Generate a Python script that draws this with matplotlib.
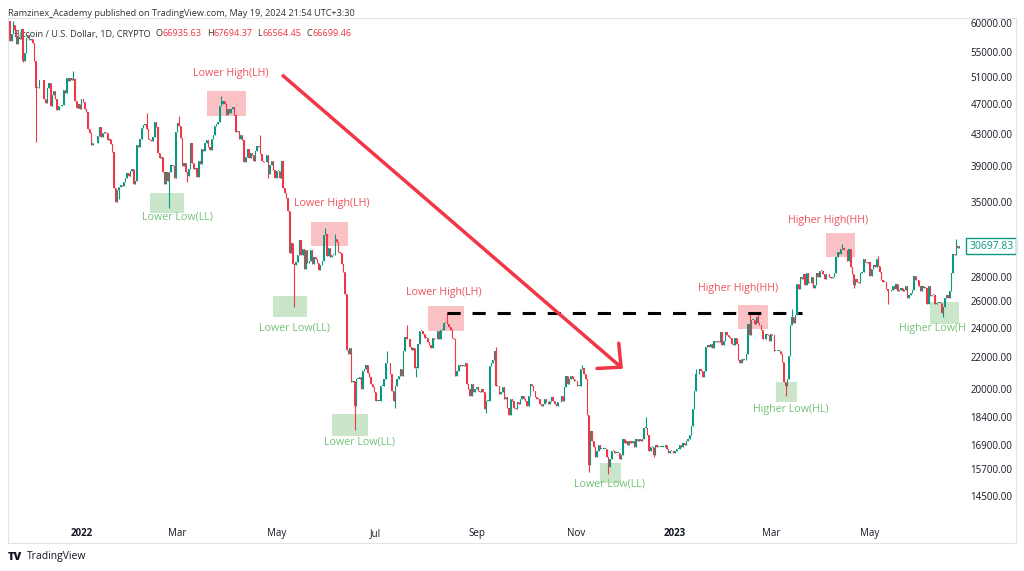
import numpy as np
import pandas as pd
import matplotlib
matplotlib.use('Agg')
import matplotlib.pyplot as plt
import matplotlib.dates as mdates
import matplotlib.transforms as mtransforms
from matplotlib.patches import Rectangle

plt.rcParams['font.family'] = ['Open Sans', 'DejaVu Sans']

# daily closes, thousands of USD (month by month)
month_starts = ['2021-11-18', '2021-12-01', '2022-01-01', '2022-02-01', '2022-03-01',
                '2022-04-01', '2022-05-01', '2022-06-01', '2022-07-01', '2022-08-01',
                '2022-09-01', '2022-10-01', '2022-11-01', '2022-12-01', '2023-01-01',
                '2023-02-01', '2023-03-01', '2023-04-01', '2023-05-01', '2023-06-01']

close_2021_11 = [56.9, 58.1, 59.7, 58.7, 56.3, 57.6, 57.2, 58.9, 53.6, 54.8, 57.3, 57.8, 57.0]
close_2021_12 = [57.2, 56.5, 53.6, 49.4, 49.4, 50.6, 50.5, 50.6, 47.7, 47.2, 49.4, 50.1, 46.7, 48.4, 48.9, 47.7,
                 46.2, 46.8, 46.7, 46.9, 49.0, 48.6, 50.8, 50.4, 50.8, 50.6, 50.7, 47.5, 46.5, 47.1, 46.3]
close_2022_01 = [47.7, 47.3, 46.4, 45.9, 43.6, 43.1, 41.6, 41.8, 41.9, 41.8, 42.7, 43.9, 42.6, 43.1, 43.2, 43.1,
                 42.2, 42.4, 41.7, 40.7, 36.5, 35.1, 36.3, 36.7, 36.9, 36.8, 37.2, 37.7, 38.2, 37.9, 38.5]
close_2022_02 = [38.7, 37.0, 37.3, 41.6, 41.4, 42.4, 43.8, 44.1, 44.3, 43.6, 42.4, 42.2, 42.1, 42.6, 44.6, 43.9,
                 40.6, 40.0, 40.1, 38.4, 37.0, 38.3, 37.3, 38.3, 39.2, 39.1, 37.7, 43.2]
close_2022_03 = [44.4, 44.0, 42.5, 39.1, 39.4, 38.4, 37.9, 38.7, 41.9, 39.4, 38.7, 38.8, 37.8, 39.7, 39.3, 41.1,
                 40.9, 41.8, 42.2, 41.3, 41.0, 42.4, 42.9, 44.0, 44.3, 44.5, 46.8, 47.1, 47.5, 47.1, 45.5]
close_2022_04 = [46.3, 45.8, 46.4, 46.6, 45.5, 43.2, 43.4, 42.3, 42.8, 42.2, 39.5, 40.1, 41.1, 40.0, 40.6, 40.4,
                 39.7, 40.8, 41.5, 41.4, 40.5, 39.7, 39.5, 39.5, 40.4, 38.1, 39.2, 39.7, 38.6, 37.7]
close_2022_05 = [38.5, 38.5, 37.7, 39.7, 36.6, 36.0, 35.5, 34.1, 30.1, 31.0, 29.1, 29.0, 29.3, 29.9, 31.3, 29.9,
                 30.4, 28.7, 30.3, 29.2, 29.4, 30.3, 29.1, 29.7, 29.5, 29.2, 28.6, 29.0, 29.4, 31.7, 31.8]
close_2022_06 = [29.8, 30.5, 29.7, 29.9, 29.9, 31.4, 31.1, 30.2, 30.1, 29.1, 28.4, 26.6, 22.5, 22.2, 22.6, 20.4,
                 20.5, 19.0, 20.6, 20.6, 20.7, 20.0, 21.1, 21.2, 21.5, 21.0, 20.7, 20.3, 20.1, 19.8]
close_2022_07 = [19.3, 19.3, 19.3, 20.2, 20.2, 20.6, 21.6, 21.6, 21.6, 20.9, 19.9, 19.3, 20.2, 20.6, 20.8, 21.2,
                 20.8, 22.4, 23.4, 23.2, 23.2, 22.7, 22.5, 22.6, 21.3, 21.3, 22.9, 23.8, 23.8, 23.6, 23.3]
close_2022_08 = [23.3, 23.0, 22.8, 22.6, 23.3, 23.2, 23.2, 23.8, 23.2, 23.9, 23.9, 24.4, 24.4, 24.3, 24.1, 23.9,
                 23.3, 23.2, 20.8, 21.1, 21.5, 21.4, 21.5, 21.4, 21.6, 20.3, 20.0, 19.6, 20.3, 19.8, 20.0]
close_2022_09 = [20.1, 19.9, 19.8, 20.0, 19.8, 18.8, 19.3, 19.3, 21.4, 21.6, 21.8, 22.4, 20.2, 20.2, 19.7, 19.8,
                 20.1, 19.4, 19.5, 18.9, 18.5, 19.4, 19.3, 18.9, 18.8, 19.2, 19.1, 19.4, 19.6, 19.4]
close_2022_10 = [19.3, 19.0, 19.6, 20.3, 20.2, 19.9, 19.5, 19.4, 19.4, 19.1, 19.0, 19.1, 19.4, 19.2, 19.1, 19.3,
                 19.5, 19.3, 19.1, 19.0, 19.2, 19.2, 19.6, 19.3, 20.1, 20.8, 20.3, 20.6, 20.8, 20.6, 20.5]
close_2022_11 = [20.5, 20.2, 20.2, 21.2, 21.3, 20.9, 20.6, 18.5, 15.9, 17.6, 17.1, 16.8, 16.3, 16.6, 16.9, 16.7,
                 16.7, 16.7, 16.7, 16.3, 15.8, 16.2, 16.6, 16.6, 16.5, 16.5, 16.5, 16.2, 16.4, 17.2]
close_2022_12 = [17.0, 17.1, 16.9, 17.1, 17.0, 17.1, 16.8, 17.2, 17.1, 17.2, 17.1, 17.2, 17.8, 17.8, 17.4, 16.6,
                 16.8, 16.8, 16.4, 16.9, 16.8, 16.8, 16.8, 16.8, 16.8, 16.9, 16.7, 16.5, 16.6, 16.6, 16.5]
close_2023_01 = [16.6, 16.7, 16.7, 16.9, 16.8, 17.0, 16.9, 17.1, 17.2, 17.4, 17.9, 18.8, 19.9, 20.9, 20.9, 21.2,
                 21.1, 20.7, 21.1, 22.7, 22.8, 22.7, 22.9, 22.6, 23.1, 23.0, 23.1, 23.0, 23.7, 22.8, 23.1]
close_2023_02 = [23.7, 23.5, 23.4, 23.3, 22.9, 22.8, 23.3, 22.9, 21.8, 21.6, 21.9, 21.8, 21.8, 22.2, 24.3, 23.5,
                 24.6, 24.6, 24.3, 24.8, 24.4, 24.2, 23.9, 23.2, 23.2, 23.6, 23.5, 23.1]
close_2023_03 = [23.6, 23.5, 22.4, 22.4, 22.4, 22.4, 22.2, 21.7, 20.4, 20.2, 20.6, 22.1, 24.2, 24.8, 24.4, 25.0,
                 27.4, 27.0, 28.0, 27.8, 28.2, 27.3, 28.3, 27.5, 27.5, 28.0, 27.1, 27.3, 28.3, 28.0, 28.5]
close_2023_04 = [28.5, 28.2, 27.8, 28.2, 28.2, 28.0, 27.9, 28.0, 28.3, 29.7, 30.2, 30.0, 30.4, 30.5, 30.3, 30.3,
                 29.4, 30.4, 28.8, 28.2, 27.3, 27.8, 27.6, 27.5, 28.3, 28.4, 29.5, 29.3, 29.2, 29.3]
close_2023_05 = [28.1, 28.7, 29.0, 28.8, 29.5, 28.9, 28.4, 27.7, 27.6, 27.6, 27.0, 26.8, 26.8, 26.9, 27.2, 27.0,
                 27.4, 26.8, 26.9, 27.1, 26.8, 26.9, 27.2, 26.3, 26.5, 26.7, 26.9, 28.1, 27.7, 27.7, 27.2]
close_2023_06 = [26.8, 27.2, 27.1, 27.1, 25.8, 27.2, 26.4, 26.5, 26.5, 25.8, 25.9, 25.9, 25.9, 25.1, 25.6, 26.3,
                 26.5, 26.3, 26.8, 28.3, 30.0, 29.9, 30.7, 30.55, 30.69783]

first_open = 60.4

# wick extremes that stand out on the chart
low_wicks = {'2021-11-26': 53.3, '2021-12-04': 42.0, '2022-01-24': 35.4, '2022-02-24': 34.4,
             '2022-03-07': 37.2, '2022-04-26': 37.7, '2022-05-12': 25.6, '2022-06-18': 17.7,
             '2022-07-13': 18.9, '2022-07-26': 20.7, '2022-09-07': 18.6, '2022-11-09': 15.6,
             '2022-11-21': 15.5, '2022-12-19': 16.3, '2023-03-10': 19.6, '2023-04-21': 27.1,
             '2023-05-12': 25.8, '2023-06-15': 24.8}
high_wicks = {'2021-11-20': 60.4, '2021-12-27': 52.0, '2022-02-10': 45.8, '2022-03-02': 45.4,
              '2022-03-28': 48.2, '2022-04-21': 42.9, '2022-05-31': 32.4, '2022-06-06': 31.8,
              '2022-07-08': 22.4, '2022-07-20': 24.2, '2022-08-14': 25.2, '2022-09-13': 22.7,
              '2022-11-05': 21.5, '2022-12-14': 18.4, '2023-01-14': 21.2, '2023-02-16': 25.2,
              '2023-02-21': 25.1, '2023-03-14': 25.4, '2023-04-14': 30.9, '2023-05-06': 29.8,
              '2023-06-23': 31.4}

price_ticks = [60000, 55000, 51000, 47000, 43000, 39000, 35000, 28000, 26000, 24000,
               22000, 20000, 18400, 16900, 15700, 14500]
time_ticks = ['2022-01-01', '2022-03-01', '2022-05-01', '2022-07-01', '2022-09-01',
              '2022-11-01', '2023-01-01', '2023-03-01', '2023-05-01']
time_labels = ['2022', 'Mar', 'May', 'Jul', 'Sep', 'Nov', '2023', 'Mar', 'May']

# highlight boxes: (start, end, low, high)
red_boxes = [('2022-03-19', '2022-04-12', 45400, 48900),
             ('2022-05-22', '2022-06-14', 30700, 33000),
             ('2022-08-02', '2022-08-24', 23800, 25650),
             ('2023-02-09', '2023-02-27', 23940, 25730),
             ('2023-04-04', '2023-04-22', 29720, 31930)]
green_boxes = [('2022-02-12', '2022-03-05', 33900, 36000),
               ('2022-04-29', '2022-05-20', 24820, 26430),
               ('2022-06-04', '2022-06-26', 17360, 18550),
               ('2022-11-16', '2022-11-29', 15080, 16010),
               ('2023-03-04', '2023-03-17', 19220, 20420),
               ('2023-06-07', '2023-06-25', 24300, 25960)]

red_labels = [('2022-04-03', 51500, 'Lower High(LH)'),
              ('2022-06-04', 34840, 'Lower High(LH)'),
              ('2022-08-12', 26670, 'Lower High(LH)'),
              ('2023-02-09', 27070, 'Higher High(HH)'),
              ('2023-04-05', 33200, 'Higher High(HH)')]
green_labels = [('2022-03-01', 33500, 'Lower Low(LL)'),
                ('2022-05-12', 24000, 'Lower Low(LL)'),
                ('2022-06-21', 17050, 'Lower Low(LL)'),
                ('2022-11-22', 15030, 'Lower Low(LL)'),
                ('2023-03-13', 18820, 'Higher Low(HL)')]
clipped_label = ('2023-05-19', 23940, 'Higher Low(HL)')

arrow_start = ('2022-05-05', 51200)
arrow_end = ('2022-11-30', 21240)
level_line = ('2022-08-14', '2023-03-20', 25150)

UP = '#089981'
DOWN = '#F23645'
INK = '#131722'

# build OHLC
month_lists = [close_2021_11, close_2021_12, close_2022_01, close_2022_02, close_2022_03,
               close_2022_04, close_2022_05, close_2022_06, close_2022_07, close_2022_08,
               close_2022_09, close_2022_10, close_2022_11, close_2022_12, close_2023_01,
               close_2023_02, close_2023_03, close_2023_04, close_2023_05, close_2023_06]
dates = []
closes = []
for start, vals in zip(month_starts, month_lists):
    dates.extend(pd.date_range(start, periods=len(vals), freq='D'))
    closes.extend(vals)
dates = pd.DatetimeIndex(dates)
closes = np.array(closes) * 1000
opens = np.concatenate([[first_open * 1000], closes[:-1]])
highs = np.maximum(opens, closes)
lows = np.minimum(opens, closes)
for d, v in high_wicks.items():
    highs[dates == pd.Timestamp(d)] = v * 1000
for d, v in low_wicks.items():
    lows[dates == pd.Timestamp(d)] = v * 1000

x = mdates.date2num(dates)
colors = np.where(closes >= opens, UP, DOWN)


def dn(s):
    return mdates.date2num(pd.Timestamp(s))


fig = plt.figure(figsize=(10.24, 5.71), dpi=100)
ax = fig.add_axes([8 / 1024, 1 - 520 / 571, 957 / 1024, 502 / 571])
ax.set_yscale('log')

# candles
body_lo = np.minimum(opens, closes)
body_hi = np.maximum(opens, closes)
heights = np.maximum(body_hi - body_lo, body_hi * 0.002)
ax.vlines(x, lows, highs, colors=colors, lw=0.8, zorder=3)
ax.bar(x, heights, bottom=body_lo, width=0.75, color=colors, linewidth=0, zorder=3)

# boxes
for s, e, lo, hi in red_boxes:
    ax.add_patch(Rectangle((dn(s), lo), dn(e) - dn(s), hi - lo, facecolor=DOWN, alpha=0.3,
                           edgecolor='none', zorder=2))
for s, e, lo, hi in green_boxes:
    ax.add_patch(Rectangle((dn(s), lo), dn(e) - dn(s), hi - lo, facecolor='#4CAF50', alpha=0.3,
                           edgecolor='none', zorder=2, clip_on=True))

for d, p, s in red_labels:
    ax.text(dn(d), p, s, ha='center', va='center', color='#F0525D', fontsize=7.7, zorder=4)
for d, p, s in green_labels:
    ax.text(dn(d), p, s, ha='center', va='center', color='#72C276', fontsize=7.7, zorder=4)
ax.text(dn(clipped_label[0]), clipped_label[1], clipped_label[2], ha='left', va='center',
        color='#72C276', fontsize=7.7, zorder=4, clip_on=True)

# dashed level and trend arrow
ax.plot([dn(level_line[0]), dn(level_line[1])], [level_line[2], level_line[2]],
        color='black', lw=2.2, dashes=(4.3, 3.9), zorder=5)
ax.annotate('', xy=(dn(arrow_end[0]), arrow_end[1]), xytext=(dn(arrow_start[0]), arrow_start[1]),
            arrowprops=dict(arrowstyle='->,head_length=1.25,head_width=1.2', color=DOWN, lw=2.5,
                            shrinkA=0, shrinkB=0, mutation_scale=10), zorder=5)

# axes
jan1 = dn('2022-01-01')
ax.set_xlim(jan1 - 45.2, jan1 + 543.4)
ax.set_ylim(13490, 60900)
ax.yaxis.tick_right()
ax.set_yticks(price_ticks)
ax.set_yticklabels([f'{v:.2f}' for v in price_ticks])
ax.yaxis.set_minor_locator(matplotlib.ticker.NullLocator())
ax.set_xticks([dn(t) for t in time_ticks])
ax.set_xticklabels(time_labels)
for lbl in ax.get_xticklabels():
    if lbl.get_text() in ('2022', '2023'):
        lbl.set_fontweight('bold')
ax.tick_params(axis='y', length=0, pad=4, labelsize=7, labelcolor=INK)
ax.tick_params(axis='x', length=0, pad=6, labelsize=7, labelcolor=INK)
for sp in ax.spines.values():
    sp.set_visible(False)

# last price tag
tr = mtransforms.blended_transform_factory(ax.transAxes, ax.transData)
ax.text(1 + 4 / 957, closes[-1], f'{closes[-1]:.2f}', transform=tr, ha='left', va='center',
        fontsize=7.5, color=UP, clip_on=False,
        bbox=dict(boxstyle='square,pad=0.25', fc='white', ec=UP, lw=1))

# frame and headers
fig.add_artist(Rectangle((8 / 1024, 1 - 543 / 571), 1008 / 1024, 525 / 571, transform=fig.transFigure,
                         fill=False, ec='#E0E3EB', lw=0.8))
fig.text(8 / 1024, 1 - 13 / 571, 'Ramzinex_Academy published on TradingView.com, May 19, 2024 21:54 UTC+3:30',
         fontsize=6.6, color='#333333', va='center')

t = ax.text(6 / 957, 1 - 16 / 502, 'Bitcoin / U.S. Dollar, 1D, CRYPTO', transform=ax.transAxes,
            fontsize=6.6, color='#333333', va='center', zorder=1)
for key, val in [('O', '66935.63'), ('H', '67694.37'), ('L', '66564.45'), ('C', '66699.46')]:
    t = ax.annotate(key, xy=(1, 0), xycoords=t, xytext=(3.5, 0), textcoords='offset points',
                    fontsize=6.6, color='#333333', va='bottom', zorder=1)
    t = ax.annotate(val, xy=(1, 0), xycoords=t, xytext=(0.2, 0), textcoords='offset points',
                    fontsize=6.6, color=DOWN, va='bottom', zorder=1)

fig.text(8 / 1024, 1 - 557 / 571, 'TV', fontsize=8, fontweight='heavy', color=INK, va='center')
fig.text(27 / 1024, 1 - 557 / 571, 'TradingView', fontsize=7.5, color=INK, va='center')

fig.savefig('out.png', dpi=100, facecolor='white')
